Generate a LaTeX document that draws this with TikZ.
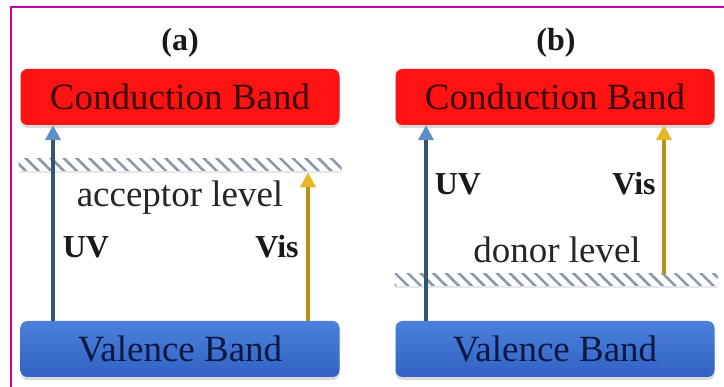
\documentclass[tikz,border=0pt]{standalone}
\usepackage{fontspec}
\setmainfont{Liberation Serif}
\usetikzlibrary{arrows.meta,shadows,patterns.meta}

\definecolor{framemag}{HTML}{C800B0}
\definecolor{cbred}{HTML}{FF1212}
\definecolor{cbtext}{HTML}{3A0808}
\definecolor{vbtop}{HTML}{4C80DC}
\definecolor{vbbot}{HTML}{3262C4}
\definecolor{vbtext}{HTML}{0C1844}
\definecolor{hatchgray}{HTML}{8898A8}
\definecolor{uvshaft}{HTML}{34546F}
\definecolor{uvhead}{HTML}{5E8FC2}
\definecolor{visshaft}{HTML}{B88E12}
\definecolor{vishead}{HTML}{E6B624}

\begin{document}
\begin{tikzpicture}[x=1pt,y=-1pt,
    band/.style={rounded corners=7pt, minimum width=319pt, minimum height=56pt,
      inner sep=0pt, font=\fontsize{37}{40}\selectfont,
      drop shadow={opacity=0.3,shadow xshift=0pt,shadow yshift=-3pt}},
    cband/.style={band, fill=cbred, text=cbtext},
    vband/.style={band, top color=vbtop, bottom color=vbbot, text=vbtext},
    level/.style={minimum width=323pt, minimum height=12pt, inner sep=0pt,
      drop shadow={opacity=0.2,shadow xshift=0pt,shadow yshift=-2pt},
      preaction={fill=white},
      pattern={Lines[angle=-45,distance=9pt,line width=2.6pt]}, pattern color=hatchgray},
    lvltext/.style={anchor=base, font=\fontsize{37}{40}\selectfont, text=black!85},
    panel/.style={font=\bfseries\fontsize{32}{36}\selectfont, text=black!90},
    light/.style={anchor=base, font=\bfseries\fontsize{32}{36}\selectfont, text=black!90},
    uvarrow/.style={line width=4pt, uvshaft, -{Triangle[width=15pt,length=15pt,color=uvhead]}},
    visarrow/.style={line width=4pt, visshaft, -{Triangle[width=15pt,length=15pt,color=vishead]}}
  ]
    \useasboundingbox (0,0) rectangle (724,387);
    \draw [framemag, line width=2.6pt] (11,400) |- (740,7);

    % (a) acceptor
    \node [panel] (labA) at (180,43) {(a)};
    \node [cband] (cbA) at (180,97) {Conduction Band};
    \node [vband] (vbA) at (180,349) {Valence Band};
    \node [level] (levA) at (180,165) {};
    \node [lvltext] (accA) at (180,207) {acceptor level};
    \coordinate (uvA) at (53,0);
    \coordinate (visA) at (308,0);
    \draw [uvarrow] (vbA.north -| uvA) -- (cbA.south -| uvA);
    \draw [visarrow] (vbA.north -| visA) -- (levA.south -| visA);
    \node [light] (uvlabA) at (86,258) {UV};
    \node [light] (vislabA) at (277,258) {Vis};

    % (b) donor
    \node [panel] (labB) at (556,43) {(b)};
    \node [cband] (cbB) at (555,97) {Conduction Band};
    \node [vband] (vbB) at (555,349) {Valence Band};
    \node [level] (levB) at (556,280) {};
    \node [lvltext] (donB) at (557,263) {donor level};
    \coordinate (uvB) at (426,0);
    \coordinate (visB) at (664,0);
    \draw [uvarrow] (vbB.north -| uvB) -- (cbB.south -| uvB);
    \draw [visarrow] (levB.north -| visB) -- (cbB.south -| visB);
    \node [light] (uvlabB) at (458,195) {UV};
    \node [light] (vislabB) at (634,195) {Vis};
  \end{tikzpicture}
\end{document}
